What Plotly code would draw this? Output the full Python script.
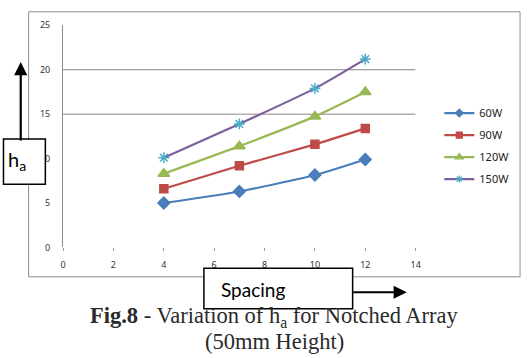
import plotly.graph_objects as go

spacing = [4, 7, 10, 12]
series_names = ["60W", "90W", "120W", "150W"]
ha_60 = [5.0, 6.3, 8.15, 9.9]
ha_90 = [6.6, 9.2, 11.6, 13.4]
ha_120 = [8.3, 11.4, 14.75, 17.5]
ha_150 = [10.1, 13.9, 17.9, 21.2]
x_ticks = [0, 2, 4, 6, 8, 10, 12, 14]
y_ticks = [0, 5, 10, 15, 20, 25]
grid_levels = [15, 20]

W, H = 529, 358
def px(x):
    return x / W
def py(y):
    return 1 - y / H

styles = [
    dict(line_color="#4A7EBB", symbol="diamond", mcolor="#4A7EBB", mline="#4A7EBB", size=9, lsize=6),
    dict(line_color="#BE4B48", symbol="square", mcolor="#BE4B48", mline="#BE4B48", size=8, lsize=6),
    dict(line_color="#98B954", symbol="triangle-up", mcolor="#98B954", mline="#98B954", size=10, lsize=7),
    dict(line_color="#7D5FA0", symbol="asterisk-open", mcolor="#4BACC6", mline="#4BACC6", size=9, lsize=6),
]

fig = go.Figure()
for name, vals, st in zip(series_names, [ha_60, ha_90, ha_120, ha_150], styles):
    fig.add_trace(go.Scatter(
        x=spacing, y=vals, name=name, mode="lines+markers",
        line=dict(color=st["line_color"], width=2.2, shape="spline", smoothing=0.6),
        marker=dict(symbol=st["symbol"], size=st["size"], color=st["mcolor"],
                    line=dict(color=st["mline"], width=1.5)),
        legendgroup=name, showlegend=False,
    ))
# legend-only entries with smaller markers
for name, st in zip(series_names, styles):
    fig.add_trace(go.Scatter(
        x=[None], y=[None], name=name, mode="lines+markers",
        line=dict(color=st["line_color"], width=2.2),
        marker=dict(symbol=st["symbol"], size=st["lsize"], color=st["mcolor"],
                    line=dict(color=st["mline"], width=1.2)),
        legendgroup=name, showlegend=True,
    ))

shapes = []
shapes.append(dict(type="rect", xref="paper", yref="paper", x0=px(26), x1=px(525), y0=py(280), y1=py(5),
                   line=dict(color="#8C8C8C", width=1), layer="below"))
for g in grid_levels:
    shapes.append(dict(type="line", xref="x", yref="y", x0=0, x1=14, y0=g, y1=g,
                       line=dict(color="#868686", width=1), layer="below"))
shapes.append(dict(type="rect", xref="paper", yref="paper", x0=px(0.5), x1=px(43), y0=py(184), y1=py(137),
                   line=dict(color="black", width=1.5), fillcolor="white", layer="above"))
shapes.append(dict(type="rect", xref="paper", yref="paper", x0=px(204), x1=px(355), y0=py(313), y1=py(271),
                   line=dict(color="black", width=1.5), fillcolor="white", layer="above"))

annotations = [
    dict(x=px(18), y=py(57), xref="paper", yref="paper", text="", showarrow=True,
         ax=0, ay=80, arrowhead=2, arrowsize=1.2, arrowwidth=2.2, arrowcolor="black"),
    dict(x=px(410), y=py(296), xref="paper", yref="paper", text="", showarrow=True,
         ax=-55, ay=0, arrowhead=2, arrowsize=1.2, arrowwidth=2.2, arrowcolor="black"),
    dict(x=px(14), y=py(159), xref="paper", yref="paper", text="h<sub>a</sub>", showarrow=False,
         font=dict(family="Lato", size=20, color="black"), xanchor="center", yanchor="middle"),
    dict(x=px(219), y=py(293), xref="paper", yref="paper", text="Spacing", showarrow=False,
         font=dict(family="Lato", size=19, color="black"), xanchor="left", yanchor="middle"),
    dict(x=px(275.5), y=py(322), xref="paper", yref="paper",
         text="<b>Fig.8</b> - Variation of h<sub>a</sub> for Notched Array", showarrow=False,
         font=dict(family="Liberation Serif", size=22.5, color="#2a2a2a"), xanchor="center", yanchor="middle"),
    dict(x=px(275.5), y=py(347), xref="paper", yref="paper",
         text="(50mm Height)", showarrow=False,
         font=dict(family="Liberation Serif", size=22.5, color="#2a2a2a"), xanchor="center", yanchor="middle"),
]

fig.update_layout(
    width=W, height=H, margin=dict(l=0, r=0, t=0, b=0),
    paper_bgcolor="white", plot_bgcolor="white",
    shapes=shapes, annotations=annotations,
    legend=dict(x=px(443), y=py(95), xanchor="left", yanchor="top",
                font=dict(family="Noto Sans", size=11, color="#222"),
                tracegroupgap=3, bgcolor="rgba(0,0,0,0)", itemwidth=30),
    xaxis=dict(domain=[px(61), px(419)], range=[0, 14], tickvals=x_ticks,
               showgrid=False, zeroline=False, showline=False,
               ticks="outside", ticklen=3, tickcolor="#999", tickwidth=1,
               ticklabelstandoff=6,
               tickfont=dict(family="Noto Sans", size=9, color="#333")),
    yaxis=dict(domain=[py(249.5), py(19)], range=[0, 25], tickvals=y_ticks,
               showgrid=False, zeroline=False, showline=True, linecolor="#8C8C8C", linewidth=1,
               ticks="", ticklabelstandoff=10,
               tickfont=dict(family="Noto Sans", size=9, color="#333")),
)

fig.write_html("out.html")
